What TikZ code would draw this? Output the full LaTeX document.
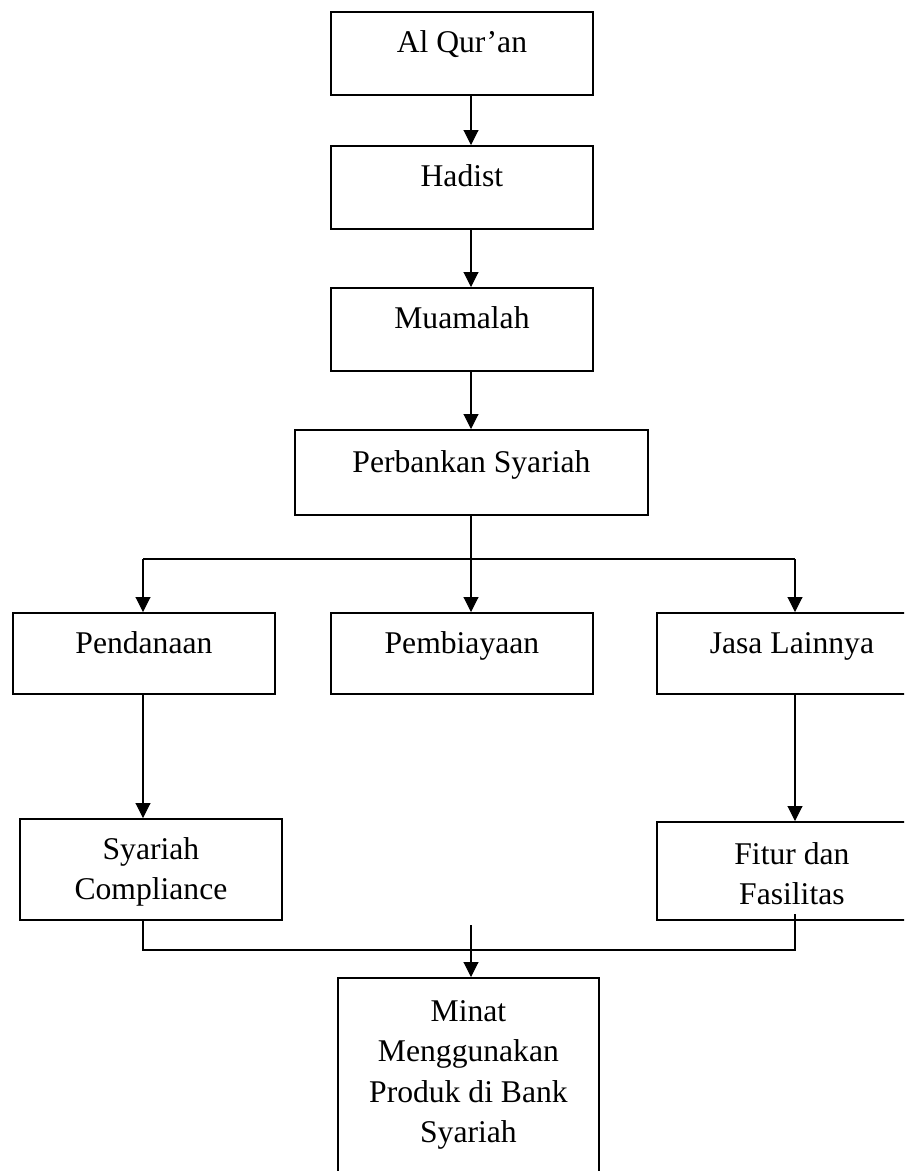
\documentclass[tikz,border=0pt]{standalone}
\usepackage{fontspec}
\setmainfont{Liberation Serif}
\usetikzlibrary{arrows.meta,calc}

\begin{document}
\begin{tikzpicture}[x=0.02cm,y=-0.02cm,
    kotak/.style={draw, line width=1.1pt, anchor=north west, inner sep=0pt, align=center,
      text height=0.82cm, font=\fontsize{18}{23}\selectfont},
    garis/.style={line width=0.6pt},
    panah/.style={garis, -{Triangle[width=0.3cm,length=0.3cm]}}]
  \clip (0,0) rectangle (904,1171);
  % alur utama
  \node[kotak, minimum width=5.24cm, text depth=0.84cm] (quran) at (330,11) {Al Qur’an};
  \node[kotak, minimum width=5.24cm, text depth=0.84cm] (hadist) at (330,145) {Hadist};
  \node[kotak, minimum width=5.24cm, text depth=0.84cm] (muamalah) at (330,287) {Muamalah};
  \node[kotak, minimum width=7.06cm, text depth=0.84cm, text height=0.86cm] (perbankan) at (294,429) {Perbankan Syariah};
  % produk
  \node[kotak, minimum width=5.24cm, text depth=0.8cm] (pendanaan) at (12,612) {Pendanaan};
  \node[kotak, minimum width=5.24cm, text depth=0.8cm] (pembiayaan) at (330,612) {Pembiayaan};
  \node[kotak, minimum width=5.4cm, text depth=0.8cm] (jasa) at (656,612) {Jasa Lainnya};
  \node[kotak, minimum width=5.24cm, text height=1.61cm, text depth=0.41cm] (syariah) at (19,818) {Syariah\\Compliance};
  \node[kotak, minimum width=5.4cm, text height=1.65cm, text depth=0.31cm] (fitur) at (656,821) {Fitur dan\\Fasilitas};
  \node[kotak, minimum width=5.22cm, text height=3.29cm, text depth=2.07cm] (minat) at (337,977) {Minat\\Menggunakan\\Produk di Bank\\Syariah};
  % titik bantu
  \coordinate (tengah) at (471,0);
  \coordinate (kiri) at (143,0);
  \coordinate (kanan) at (795,0);
  \coordinate (cabang) at (0,559);
  \coordinate (gabung) at (0,950);
  \coordinate (mulai) at (471,925);
  \draw[panah] (quran.south -| tengah) -- (hadist.north -| tengah);
  \draw[panah] (hadist.south -| tengah) -- (muamalah.north -| tengah);
  \draw[panah] (muamalah.south -| tengah) -- (perbankan.north -| tengah);
  \draw[garis] (perbankan.south -| tengah) -- (cabang -| tengah);
  \draw[garis] (cabang -| kiri) -- (cabang -| kanan);
  \foreach \n/\x in {pendanaan/kiri, pembiayaan/tengah, jasa/kanan}
    \draw[panah] (cabang -| \x) -- (\n.north -| \x);
  \draw[panah] (pendanaan.south -| kiri) -- (syariah.north -| kiri);
  \draw[panah] (jasa.south -| kanan) -- (fitur.north -| kanan);
  \draw[garis] (syariah.south -| kiri) -- (gabung -| kiri) -- (gabung -| kanan) -- ($(fitur.south -| kanan)+(0,-7)$);
  \draw[panah] (mulai) -- (minat.north -| mulai);
\end{tikzpicture}
\end{document}
